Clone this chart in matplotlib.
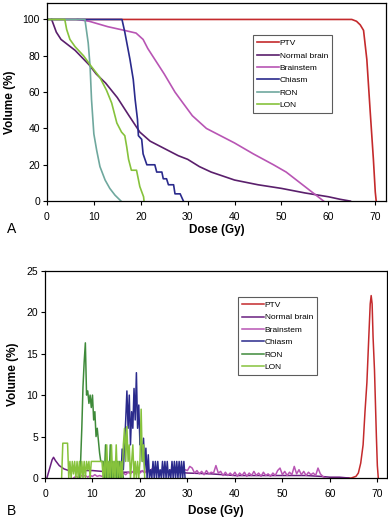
import numpy as np
import matplotlib.pyplot as plt

plt.rcParams['font.family'] = ['Liberation Sans', 'DejaVu Sans']

labels = ['PTV', 'Normal brain', 'Brainstem', 'Chiasm', 'RON', 'LON']
colors_a = ['#c42a2c', '#5a1f6c', '#b855b4', '#2a2a8c', '#6fa89e', '#86c23c']
colors_b = ['#c42a2c', '#6a1f80', '#b855b4', '#2a2a8c', '#3f8a3a', '#86c23c']

# panel A - cumulative DVH
ptv_x = [0, 65.0, 66.0, 66.8, 67.5, 68.2, 68.9, 69.6, 70.0, 70.2]
ptv_y = [100, 100, 99, 97, 94, 78, 50, 23, 5, 0]
nb_x = [1.0, 2.0, 3.0, 4.5, 6.0, 7.5, 9.0, 10.5, 12.5, 15.0, 17.5, 19.8, 22.0, 25.0,
        28.0, 30.0, 32.5, 35.0, 40.0, 45.0, 50.0, 55.0, 60.0, 62.5, 64.7]
nb_y = [100, 93, 89, 86, 83, 79, 75, 70, 65, 57, 47, 38, 33, 29,
        25, 23, 19, 16, 11.6, 9, 7, 4.5, 2.4, 1, 0]
bs_x = [6.5, 9.0, 13.0, 16.5, 19.0, 20.5, 21.5, 23.0, 25.0, 27.3, 29.0, 31.0, 34.0,
        37.0, 40.0, 44.0, 48.3, 51.0, 54.0, 57.0, 59.0]
bs_y = [100, 99, 96, 94, 92.5, 89, 84, 78, 70, 60, 54, 47, 40,
        36, 32, 26, 20, 16, 10, 4, 0]
ch_x = [0, 16.0, 16.6, 17.7, 18.4, 18.8, 19.3, 19.5, 20.2, 20.5, 21.3, 23.0, 23.4,
        24.5, 24.8, 25.5, 25.9, 27.0, 27.3, 28.4, 29.1]
ch_y = [100, 100, 93, 78, 67, 56, 45, 36, 34, 26, 20, 20, 16,
        16, 12.3, 12.3, 9, 9, 4, 4, 0]
ron_x = [0, 8.1, 8.8, 9.2, 9.5, 10.0, 10.6, 11.3, 12.4, 13.4, 14.5, 15.6, 15.8]
ron_y = [100, 100, 87, 74, 56, 37, 28, 19, 11.6, 7, 3.3, 0.5, 0]
lon_x = [0, 3.8, 4.2, 4.9, 6.0, 7.8, 9.5, 11.3, 12.7, 13.8, 14.9, 15.9, 16.6, 17.0,
         17.4, 18.0, 19.1, 19.8, 20.6, 20.7]
lon_y = [100, 100, 94.5, 89, 85, 80, 74, 68, 61, 54, 43, 38, 36, 30,
         23, 17, 17, 8, 2.4, 0]

# panel B - differential DVH
ptv_b_x = [60, 64.5, 65.5, 66.0, 66.5, 67.0, 67.4, 67.8, 68.2, 68.5, 68.7, 68.9,
           69.1, 69.4, 69.6, 69.8, 70.0, 70.2]
ptv_b_y = [0, 0, 0.2, 0.6, 1.8, 4, 8, 11.5, 17, 21, 22, 21,
           17, 13, 9, 5, 1.5, 0]
nb_b_x = [0.4, 1.0, 1.5, 1.8, 2.2, 3.0, 4.0, 5.0, 6.0, 8.0, 10.0, 12.0, 14.0, 16.0,
          18.0, 20.0, 22.0, 24.0, 26.0, 28.0, 30.0, 35.0, 40.0, 45.0, 50.0, 55.0,
          58.0, 60.0, 62.0, 63.0, 64.0]
nb_b_y = [0, 1.2, 2.2, 2.5, 2.1, 1.5, 1.1, 0.9, 0.9, 0.9, 0.9, 0.8, 0.8, 0.7,
          0.7, 0.8, 0.8, 0.7, 0.7, 0.7, 0.6, 0.5, 0.3, 0.3, 0.3, 0.3,
          0.2, 0.1, 0.1, 0.05, 0]
bs_b_x = np.arange(6.0, 59.01, 0.5)
bs_b_y = [0, 0.2, 0.1, 0.3, 0.2, 0.3, 0.1, 0.3, 0.2, 0.4, 0.2, 0.3, 0.2, 0.4,
          0.3, 0.5, 0.3, 0.5, 0.3, 0.6, 0.4, 0.6, 0.4, 0.7, 0.5, 0.8, 0.5, 1.0,
          0.6, 0.9, 0.6, 1.0, 0.7, 1.1, 0.6, 1.0, 0.7, 0.9, 0.6, 1.0, 0.7, 1.0,
          0.6, 0.9, 0.7, 1.1, 0.8, 1.0, 0.9, 1.4, 1.2, 0.6, 0.9, 0.5, 0.8, 0.4,
          0.9, 0.5, 0.7, 0.6, 1.5, 0.6, 0.8, 0.3, 0.7, 0.3, 0.6, 0.3, 0.7, 0.2,
          0.6, 0.3, 0.7, 0.2, 0.6, 0.3, 0.8, 0.3, 0.6, 0.2, 0.7, 0.3, 0.5, 0.2,
          0.6, 0.3, 0.9, 1.2, 0.4, 0.8, 0.3, 0.7, 0.4, 1.4, 0.5, 1.0, 0.4, 0.8,
          0.3, 0.7, 0.4, 0.6, 0.3, 1.2, 0.5, 0.2, 0]
ch_b_x = np.arange(16.0, 29.51, 0.25)
ch_b_y = [0, 3.5, 1, 4, 7, 10.5, 6, 10, 4, 8, 6, 10.8, 7, 12.7, 6, 8.8,
          4, 5, 2, 4.8, 1, 3.6, 0, 2.8, 0, 1, 0, 2, 0, 2, 0, 2,
          0, 1, 0, 2, 0, 2, 0, 2, 0, 1, 0, 2, 0, 2, 0, 2,
          0, 2, 0, 2, 0, 2, 0]
ron_b_x = np.arange(7.0, 16.51, 0.25)
ron_b_y = [0, 0, 2, 6, 11, 14, 16.3, 10, 10.5, 9, 10, 8.5, 10, 7, 8, 5,
           6, 4.5, 3, 2, 2, 2, 0, 4, 0, 2, 0, 4, 0, 2, 0, 2,
           0, 2, 0, 2, 0, 1, 0]
lon_b_x = np.arange(3.5, 21.01, 0.25)
lon_b_y = [0, 4.2, 4.2, 4.2, 4.2, 4.2, 0, 2, 0, 2, 0.5, 2, 0, 2, 0, 2,
           0, 2, 0, 2, 0, 2, 1, 2, 0, 2, 2, 2, 2, 2, 2, 2,
           2, 2, 2, 0, 2, 0, 4, 0, 2, 0, 4, 0, 2, 0, 4, 0,
           2, 0, 2, 0, 4, 6, 2, 6.2, 2, 4, 0, 2, 4, 0, 2, 0,
           2, 0, 2, 8.3, 2, 4, 0]

fig = plt.figure(figsize=(3.88, 5.17), dpi=100)
ax1 = fig.add_axes([0.121, 0.611, 0.874, 0.383])
ax2 = fig.add_axes([0.116, 0.0754, 0.881, 0.401])

series_a = [(ptv_x, ptv_y), (nb_x, nb_y), (bs_x, bs_y), (ch_x, ch_y), (ron_x, ron_y), (lon_x, lon_y)]
for (x, y), c, lab in zip(series_a, colors_a, labels):
    ax1.plot(x, y, color=c, lw=1.2, label=lab)

series_b = [(ptv_b_x, ptv_b_y), (nb_b_x, nb_b_y), (bs_b_x, bs_b_y), (ch_b_x, ch_b_y),
            (ron_b_x, ron_b_y), (lon_b_x, lon_b_y)]
for (x, y), c, lab in zip(series_b, colors_b, labels):
    ax2.plot(x, y, color=c, lw=1.1, label=lab)

ax1.set_xlim(0, 72.3)
ax1.set_ylim(0, 109)
ax1.set_yticks([0, 20, 40, 60, 80, 100])
ax2.set_xlim(0, 72)
ax2.set_ylim(0, 25)
ax2.set_yticks([0, 5, 10, 15, 20, 25])

for ax in (ax1, ax2):
    ax.set_xticks(range(0, 71, 10))
    ax.tick_params(labelsize=7.5, length=3, width=0.8, direction='out', pad=2)
    ax.tick_params(axis='x', pad=5)
    for s in ax.spines.values():
        s.set_color('black')
        s.set_linewidth(0.9)
    ax.set_ylabel('Volume (%)', fontsize=8.5, fontweight='bold', labelpad=5)

ax1.set_xlabel('Dose (Gy)', fontsize=8.5, fontweight='bold', labelpad=1)
ax2.set_xlabel('Dose (Gy)', fontsize=8.5, fontweight='bold', labelpad=4)

leg_kw = dict(fontsize=6, frameon=True, fancybox=False, handlelength=2.6,
              handletextpad=0.1, labelspacing=0.55, borderpad=0.5, borderaxespad=0)
l1 = ax1.legend(loc='upper left', bbox_to_anchor=(0.652, 0.932),
                bbox_transform=fig.transFigure, **leg_kw)
l2 = ax2.legend(loc='upper left', bbox_to_anchor=(0.613, 0.4255),
                bbox_transform=fig.transFigure, **leg_kw)
for l in (l1, l2):
    l.get_frame().set_edgecolor('#333333')
    l.get_frame().set_linewidth(0.8)

fig.text(0.018, 1 - 229 / 517, 'A', fontsize=10, va='center', ha='left')
fig.text(0.018, 1 - 511 / 517, 'B', fontsize=10, va='center', ha='left')

fig.savefig('out.png', dpi=100)
